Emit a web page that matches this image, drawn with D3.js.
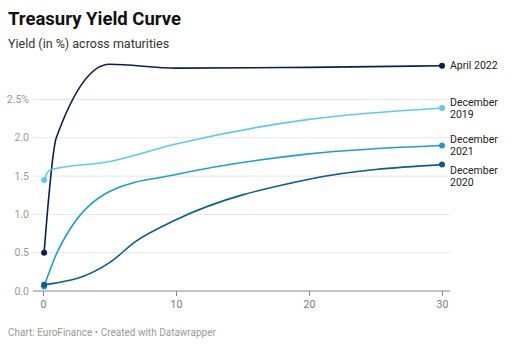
<!DOCTYPE html>
<html>
<head>
<meta charset="utf-8">
<script src="https://cdn.jsdelivr.net/npm/d3@7"></script>
<style>
  body { margin: 0; background: #fff; font-family: Roboto, "Noto Sans", sans-serif; }
  svg text { font-family: Roboto, "Noto Sans", sans-serif; }
</style>
</head>
<body>
<script>
// maturities in years, yields in %
const seriesNames = ["April 2022", "December 2019", "December 2021", "December 2020"];
const aprMat = [1/12, 1, 5, 10, 20, 30];
const april2022 = [0.50, 2.00, 2.96, 2.91, 2.92, 2.94];
const dec19Mat = [1/12, 0.5, 5, 10, 20, 30];
const dec2019 = [1.45, 1.58, 1.69, 1.92, 2.24, 2.39];
const dec21Mat = [1/12, 1, 2, 5, 10, 20, 30];
const dec2021 = [0.06, 0.48, 0.80, 1.30, 1.52, 1.79, 1.90];
const dec20Mat = [1/12, 2, 3, 5, 7, 10, 20, 30];
const dec2020 = [0.08, 0.14, 0.19, 0.37, 0.65, 0.93, 1.46, 1.65];
const xTicks = [0, 10, 20, 30];
const yTicks = [0, 0.5, 1, 1.5, 2, 2.5];

const colors = ["#0b1f4f", "#5ccaf5", "#1a9fd0", "#0c5c8c"];
const mats = [aprMat, dec19Mat, dec21Mat, dec20Mat];
const values = [april2022, dec2019, dec2021, dec2020];
const labelLines = [["April 2022"], ["December", "2019"], ["December", "2021"], ["December", "2020"]];
const labelDy = [0, -6, -6, 6];

const W = 512, H = 347;
const svg = d3.select("body").append("svg").attr("width", W).attr("height", H);

svg.append("text").attr("x", 8).attr("y", 25)
  .attr("font-size", 18.5).attr("font-weight", 700).attr("fill", "#111")
  .text("Treasury Yield Curve");
svg.append("text").attr("x", 8).attr("y", 48)
  .attr("font-size", 12.5).attr("fill", "#333")
  .text("Yield (in %) across maturities");
svg.append("text").attr("x", 8).attr("y", 336)
  .attr("font-size", 10).attr("fill", "#9a9a9a")
  .text("Chart: EuroFinance \u2022 Created with Datawrapper");

const x = d3.scaleLinear().domain([0, 30]).range([43, 442]);
const y = d3.scaleLinear().domain([0, 2.5]).range([291, 99.5]);

// grid + y labels
const yg = svg.append("g");
yg.selectAll("line").data(yTicks).enter().append("line")
  .attr("x1", 33).attr("x2", 450)
  .attr("y1", d => y(d)).attr("y2", d => y(d))
  .attr("stroke", d => d === 0 ? "#888" : "#e6e6e6").attr("stroke-width", 1);
yg.selectAll("text").data(yTicks).enter().append("text")
  .attr("x", 29).attr("y", d => y(d)).attr("dy", "0.35em")
  .attr("text-anchor", "end").attr("font-size", 10.5).attr("fill", "#9a9a9a")
  .text((d, i) => i === yTicks.length - 1 ? d3.format(".1f")(d) + "%" : d3.format(".1f")(d));

// x axis
const xAxis = d3.axisBottom(x).tickValues(xTicks).tickSize(5).tickPadding(5).tickFormat(d3.format("d"));
const xg = svg.append("g").attr("transform", `translate(0,${y(0)})`).call(xAxis);
xg.select(".domain").remove();
xg.selectAll(".tick line").attr("stroke", "#888");
xg.selectAll(".tick text").attr("fill", "#777").attr("font-size", 10.5)
  .attr("font-family", "Roboto, 'Noto Sans', sans-serif");

const line = d3.line().curve(d3.curveMonotoneX)
  .x(d => x(d[0])).y(d => y(d[1]));

seriesNames.forEach((name, i) => {
  const pts = mats[i].map((m, j) => [m, values[i][j]]);
  svg.append("path").datum(pts)
    .attr("d", line).attr("fill", "none")
    .attr("stroke", colors[i]).attr("stroke-width", 1.6);
  const first = pts[0], last = pts[pts.length - 1];
  svg.selectAll(null).data([first, last]).enter().append("circle")
    .attr("cx", d => x(d[0])).attr("cy", d => y(d[1])).attr("r", 3)
    .attr("fill", colors[i]);
  const t = svg.append("text").attr("x", 450)
    .attr("y", y(last[1]) + labelDy[i]).attr("font-size", 10.5).attr("fill", "#222");
  labelLines[i].forEach((s, k) => {
    t.append("tspan").attr("x", 450).attr("dy", k === 0 ? "0.35em" : "1.15em").text(s);
  });
});
</script>
</body>
</html>
